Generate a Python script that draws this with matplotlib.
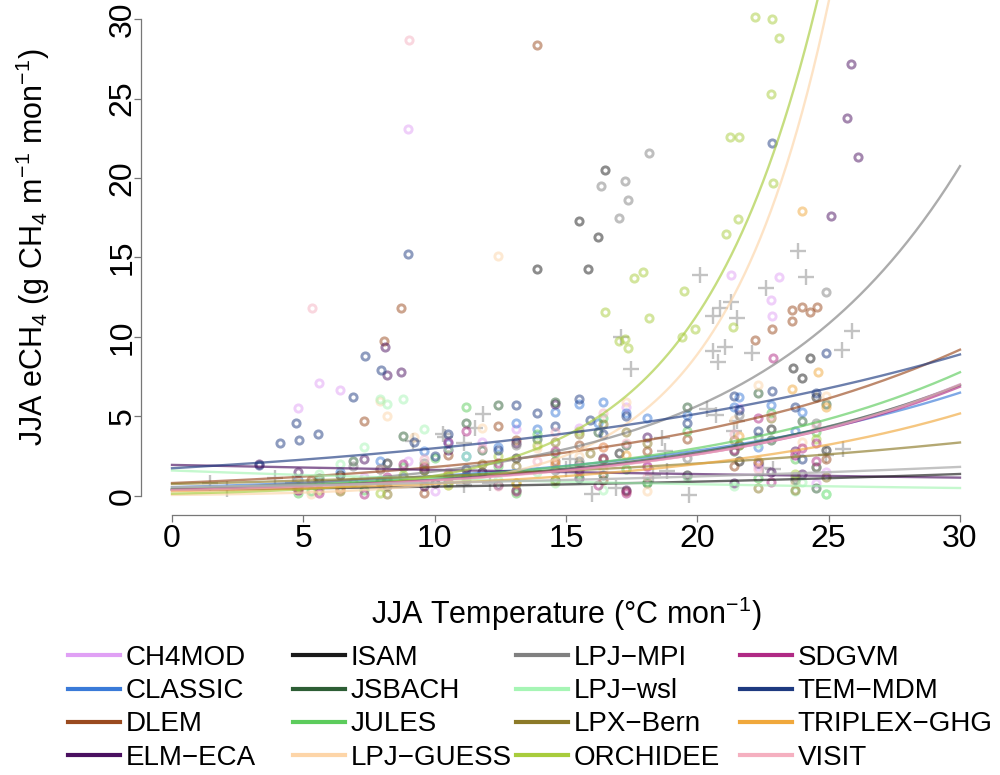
#!/usr/bin/env python3

import matplotlib
matplotlib.use("Agg")
import matplotlib.pyplot as plt
import numpy as np
from matplotlib.lines import Line2D

plt.rcParams['font.family'] = ['Liberation Sans', 'DejaVu Sans']
plt.rcParams['mathtext.fontset'] = 'custom'
plt.rcParams['mathtext.rm'] = 'Liberation Sans'
plt.rcParams['mathtext.it'] = 'Liberation Sans'
plt.rcParams['mathtext.default'] = 'regular'

MODELS = ['CH4MOD', 'CLASSIC', 'DLEM', 'ELM-ECA',
          'ISAM', 'JSBACH', 'JULES', 'LPJ-GUESS',
          'LPJ-MPI', 'LPJ-wsl', 'LPX-Bern', 'ORCHIDEE',
          'SDGVM', 'TEM-MDM', 'TRIPLEX-GHG', 'VISIT']
COLORS = ['#e0a0f5', '#3a7ad8', '#9a4a1f', '#4a1060',
          '#1a1a1a', '#2d5e35', '#5ccc5c', '#fdd5a8',
          '#808080', '#a6f5b5', '#8c7a28', '#a8cc3c',
          '#b02a85', '#1e3a80', '#f0a83c', '#f5b0c0']

# exponential fits: eCH4 = FIT_A * exp(FIT_B * T)
FIT_A = [0.40, 0.55, 0.81, 1.95, 0.38, 0.42, 0.45, 0.06,
         0.42, 1.60, 0.75, 0.14, 0.38, 1.74, 0.30, 0.36]
FIT_B = [0.0955, 0.0823, 0.081, -0.0176, 0.043, 0.0937, 0.095, 0.25,
         0.13, -0.039, 0.05, 0.22, 0.0965, 0.0544, 0.095, 0.099]
OBS_FIT_A = 0.55
OBS_FIT_B = 0.04

# site values per model (JJA temperature, JJA eCH4)
CH4MOD_T = [4.8, 5.6, 6.4, 7.3, 8.2, 9.0, 9.0, 10.0, 10.5, 11.8, 13.1, 14.6, 15.5,
            16.4, 17.3, 18.1, 21.3, 21.6, 22.3, 22.8, 22.85, 23.1, 23.7, 24.5, 24.9]
CH4MOD_Y = [5.5, 7.1, 6.65, 1.2, 0.9, 23.1, 2.2, 0.3, 1.5, 3.4, 4.2, 2.0, 4.3,
            3.1, 5.6, 1.8, 13.9, 5.5, 1.9, 12.3, 11.3, 13.8, 2.6, 0.8, 1.5]
CLASSIC_T = [4.8, 6.4, 7.9, 8.8, 9.6, 10.5, 11.2, 12.4, 13.1, 13.9, 14.6, 15.5,
             16.2, 16.4, 17.3, 18.1, 19.6, 21.4, 21.6, 22.3, 22.8, 23.7, 24.0, 24.5]
CLASSIC_Y = [1.0, 1.5, 2.2, 1.2, 2.8, 3.3, 2.5, 3.1, 4.6, 4.2, 5.3, 5.8,
             4.6, 5.9, 5.2, 4.9, 5.1, 5.6, 6.2, 3.1, 5.7, 4.1, 5.3, 1.8]
DLEM_T = [5.3, 7.3, 8.07, 8.73, 9.6, 10.5, 11.2, 12.4, 13.1, 13.9, 14.6, 15.5, 16.4,
          17.3, 18.1, 19.6, 21.4, 22.2, 22.85, 23.6, 23.6, 24.0, 24.3, 24.55, 24.9]
DLEM_Y = [1.0, 4.7, 9.75, 11.8, 0.2, 2.6, 1.3, 4.4, 3.5, 28.4, 2.2, 3.2, 1.0,
          0.3, 2.8, 3.6, 1.9, 9.8, 10.5, 11.0, 11.7, 11.9, 11.6, 11.9, 2.3]
ELMECA_T = [3.3, 4.8, 5.6, 7.3, 8.1, 8.2, 8.73, 9.6, 10.5, 11.2, 12.4, 13.1, 14.6,
            15.5, 16.4, 17.3, 18.1, 21.4, 22.3, 22.8, 23.7, 24.0, 25.1, 25.7, 25.85, 26.1]
ELMECA_Y = [2.0, 1.5, 0.9, 2.3, 9.4, 7.6, 7.8, 0.6, 2.9, 1.2, 0.7, 3.3, 5.8,
            1.1, 2.4, 0.4, 3.7, 0.8, 2.1, 1.5, 2.8, 1.4, 17.6, 23.8, 27.2, 21.3]
ISAM_T = [6.4, 8.2, 10.0, 11.8, 13.1, 13.9, 14.6, 15.5, 15.85, 16.2,
          16.5, 17.0, 19.6, 21.6, 22.8, 23.65, 24.0, 24.3, 24.5, 24.9]
ISAM_Y = [1.3, 2.1, 0.8, 1.5, 2.4, 14.3, 1.0, 17.3, 14.3, 16.3,
          20.5, 2.7, 1.3, 2.2, 4.2, 8.05, 7.4, 8.7, 6.2, 2.9]
JSBACH_T = [4.8, 5.6, 6.9, 7.9, 8.8, 9.6, 10.5, 11.2, 11.8, 12.4, 13.1, 13.9, 14.6,
            15.5, 16.2, 16.4, 17.3, 18.1, 19.6, 21.4, 22.3, 22.8, 23.7, 24.0, 24.5, 24.9]
JSBACH_Y = [0.6, 1.1, 2.2, 1.7, 3.8, 1.6, 0.9, 4.6, 2.9, 5.7, 0.4, 3.6, 5.9,
            2.0, 4.0, 1.3, 3.2, 0.8, 5.6, 2.8, 6.5, 3.5, 1.0, 4.7, 0.5, 5.8]
JULES_T = [4.8, 5.3, 6.4, 7.3, 7.9, 8.8, 9.6, 10.0, 10.5, 11.2, 12.4, 13.1, 13.9,
           14.6, 15.5, 16.4, 17.3, 18.1, 19.6, 21.6, 22.3, 22.8, 23.7, 24.5, 24.9]
JULES_Y = [0.2, 0.3, 0.5, 0.4, 1.0, 1.8, 0.9, 2.4, 1.3, 5.6, 1.9, 0.2, 3.9,
           2.7, 1.4, 4.9, 1.7, 0.9, 4.1, 3.2, 1.1, 5.2, 2.3, 4.0, 0.1]
LPJGUESS_T = [5.3, 6.4, 7.9, 8.2, 9.2, 10.5, 11.8, 12.4, 13.9, 14.6,
              15.5, 16.4, 17.3, 18.1, 21.4, 22.3, 23.7, 24.0, 24.9]
LPJGUESS_Y = [0.1, 0.4, 6.0, 5.0, 3.7, 0.7, 4.3, 15.1, 3.0, 0.9,
              2.5, 1.7, 5.9, 0.3, 4.8, 7.0, 0.8, 3.4, 6.3]
LPJMPI_T = [4.8, 6.9, 8.2, 9.6, 11.2, 13.1, 14.6, 15.5, 16.35, 17.0,
            17.26, 17.35, 18.15, 19.6, 21.6, 22.3, 23.7, 24.5, 24.9]
LPJMPI_Y = [0.4, 1.9, 0.6, 2.1, 1.0, 3.2, 1.6, 2.2, 19.5, 17.5,
            19.8, 18.6, 21.6, 2.4, 5.1, 3.7, 1.2, 4.6, 12.8]
LPJWSL_T = [4.8, 5.6, 6.4, 7.3, 7.9, 8.2, 8.8, 9.6, 10.5, 11.2, 12.4,
            13.9, 14.6, 16.4, 17.3, 19.6, 21.4, 22.3, 23.7, 24.0, 24.9]
LPJWSL_Y = [0.9, 1.4, 2.0, 3.1, 6.1, 5.8, 6.1, 4.2, 3.0, 2.5, 1.0,
            1.5, 0.8, 0.4, 1.7, 1.2, 0.6, 3.3, 0.3, 0.9, 0.1]
LPXBERN_T = [4.8, 6.4, 7.9, 8.2, 9.6, 10.5, 11.8, 13.1, 14.6, 15.5, 15.9,
             16.4, 17.3, 18.1, 21.4, 21.6, 22.3, 22.8, 23.7, 24.5, 24.9]
LPXBERN_Y = [0.5, 0.3, 0.9, 0.1, 1.6, 1.2, 2.0, 1.9, 3.4, 3.9, 2.7,
             4.5, 4.0, 3.3, 3.5, 3.2, 0.5, 4.9, 0.4, 1.8, 1.2]
ORCHIDEE_T = [4.8, 5.6, 6.9, 7.9, 8.8, 9.6, 10.5, 11.2, 12.4, 13.1, 13.9, 14.6,
              15.5, 16.4, 16.5, 17.0, 17.25, 17.35, 17.6, 17.95, 18.15, 19.4,
              19.5, 19.9, 21.1, 21.25, 21.35, 21.55, 21.6, 22.2, 22.8, 22.85,
              22.9, 23.1, 23.7, 24.5]
ORCHIDEE_Y = [0.6, 0.4, 0.9, 0.2, 1.3, 1.9, 0.7, 1.2, 2.5, 0.8, 3.2, 1.0,
              4.1, 2.3, 11.6, 9.75, 9.9, 9.3, 13.7, 14.1, 11.2, 10.0,
              12.9, 10.5, 16.5, 22.6, 10.6, 17.4, 22.6, 30.1, 25.3, 30.0,
              19.7, 28.8, 1.4, 3.6]
SDGVM_T = [4.8, 5.6, 7.3, 8.2, 8.8, 9.6, 10.5, 11.2, 12.4, 13.1, 14.6, 15.5,
           16.2, 16.4, 17.3, 18.1, 21.4, 22.3, 22.8, 22.9, 23.7, 24.0, 24.5, 24.5]
SDGVM_Y = [0.4, 0.2, 0.1, 1.2, 2.0, 1.8, 3.4, 4.1, 2.1, 0.3, 2.8, 1.6,
           0.7, 2.3, 0.2, 1.9, 2.9, 4.9, 0.9, 8.7, 2.6, 3.0, 2.2, 3.3]
TEMMDM_T = [3.3, 4.1, 4.72, 4.82, 5.56, 6.89, 7.33, 7.96, 8.2, 9.0, 9.2, 10.0,
            10.5, 11.2, 12.4, 13.1, 13.9, 14.6, 15.5, 15.9, 16.4, 17.3, 19.6,
            21.4, 21.6, 22.3, 22.85, 22.85, 23.7, 24.0, 24.5, 24.9]
TEMMDM_Y = [1.95, 3.35, 4.57, 3.5, 3.9, 6.25, 8.8, 7.9, 1.0, 15.2, 3.4, 2.5,
            3.9, 1.7, 2.9, 5.7, 5.2, 4.4, 6.1, 4.8, 3.9, 5.0, 4.6,
            6.3, 5.4, 4.1, 22.2, 6.6, 5.6, 2.3, 6.5, 9.0]
TRIPLEX_T = [6.4, 8.2, 10.5, 13.1, 14.6, 16.4, 17.3, 21.6, 22.3, 23.6, 24.0, 24.6, 24.9]
TRIPLEX_Y = [0.5, 1.0, 1.4, 0.8, 2.0, 3.1, 2.6, 3.8, 2.2, 6.7, 17.9, 7.8, 5.6]
VISIT_T = [4.8, 5.33, 6.4, 7.9, 9.03, 9.6, 10.5, 11.8, 12.4, 13.9,
           14.6, 15.5, 16.4, 17.3, 18.1, 21.4, 22.3, 22.8, 23.7, 24.5]
VISIT_Y = [0.9, 11.8, 0.5, 1.7, 28.7, 2.3, 1.1, 3.0, 0.6, 2.2,
           4.0, 1.9, 5.2, 3.3, 1.2, 3.9, 1.7, 5.0, 2.7, 4.4]

# site observations (grey crosses)
OBS_T = [1.45, 2.08, 3.92, 4.62, 9.19, 10.3, 10.4, 11.1, 11.53, 11.85, 12.1, 11.1,
         15.0, 15.15, 16.0, 16.9, 17.1, 17.47, 18.3, 18.64, 18.77, 18.83, 19.7,
         20.1, 20.35, 20.6, 20.6, 20.7, 20.8, 20.85, 21.05, 21.3, 21.4, 21.5, 21.5,
         22.1, 22.5, 22.6, 22.9, 23.85, 24.15, 24.9, 25.5, 25.55, 25.9]
OBS_Y = [0.84, 0.42, 1.15, 0.84, 3.46, 3.88, 3.7, 3.3, 4.3, 5.14, 0.8, 0.7,
         1.7, 2.3, 0.15, 0.52, 10.0, 8.0, 1.3, 3.67, 2.83, 1.57, 0.08,
         13.9, 5.45, 9.1, 11.3, 5.1, 8.4, 11.8, 9.4, 12.2, 4.1, 4.7, 11.2,
         9.0, 1.78, 13.1, 1.68, 15.4, 13.8, 2.6, 9.2, 2.94, 10.4]

MODEL_T = [CH4MOD_T, CLASSIC_T, DLEM_T, ELMECA_T, ISAM_T, JSBACH_T, JULES_T, LPJGUESS_T,
           LPJMPI_T, LPJWSL_T, LPXBERN_T, ORCHIDEE_T, SDGVM_T, TEMMDM_T, TRIPLEX_T, VISIT_T]
MODEL_Y = [CH4MOD_Y, CLASSIC_Y, DLEM_Y, ELMECA_Y, ISAM_Y, JSBACH_Y, JULES_Y, LPJGUESS_Y,
           LPJMPI_Y, LPJWSL_Y, LPXBERN_Y, ORCHIDEE_Y, SDGVM_Y, TEMMDM_Y, TRIPLEX_Y, VISIT_Y]


def main():
    fig = plt.figure(figsize=(10, 7.75), dpi=100)
    # R-style plot region: data range 0-30 padded by 4%
    ax = fig.add_axes([0.1405, 0.3355, 0.851, 0.6645])
    ax.set_xlim(-1.2, 31.2)
    ax.set_ylim(-1.2, 31.2)

    ax.plot(OBS_T, OBS_Y, '+', color='#b4b4b4', ms=12, mew=1.7, alpha=0.8, clip_on=False)
    for t, y, c in zip(MODEL_T, MODEL_Y, COLORS):
        ax.plot(t, y, 'o', mfc='none', mec=c, ms=5.2, mew=2.1, alpha=0.5, clip_on=False)

    tt = np.linspace(0, 30, 301)
    for a, b, c in zip(FIT_A, FIT_B, COLORS):
        ax.plot(tt, a * np.exp(b * tt), '-', color=c, lw=1.7, alpha=0.65)
    ax.plot(tt, OBS_FIT_A * np.exp(OBS_FIT_B * tt), '-', color='#b4b4b4', lw=1.7, alpha=0.8)

    # axes: detached R style
    for side in ['top', 'right']:
        ax.spines[side].set_visible(False)
    for side in ['left', 'bottom']:
        ax.spines[side].set_bounds(0, 30)
        ax.spines[side].set_color('#777777')
        ax.spines[side].set_linewidth(0.9)
    ax.set_xticks(np.arange(0, 31, 5))
    ax.set_yticks(np.arange(0, 31, 5))
    ax.tick_params(axis='both', length=5, width=0.9, color='#777777', labelsize=23)
    ax.tick_params(axis='x', pad=1.5)
    ax.tick_params(axis='y', pad=-3, labelrotation=90)
    for lab in ax.get_yticklabels():
        lab.set_va('center')

    ax.set_xlabel('JJA Temperature (°C mon$^{-1}$)', fontsize=22)
    ax.xaxis.set_label_coords(0.5, -0.155)
    ax.set_ylabel('JJA eCH$_4$ (g CH$_4$ m$^{-1}$ mon$^{-1}$)', fontsize=22)
    ax.yaxis.set_label_coords(-0.104, 0.52)

    # legend: four columns of four, laid out like the R legend
    handles = [Line2D([], [], color=c, lw=3) for c in COLORS]
    labels = [m.replace('-', '\u2212') for m in MODELS]
    col_x = [68, 293, 516, 740]
    for i, x in enumerate(col_x):
        fig.legend(handles[4 * i:4 * i + 4], labels[4 * i:4 * i + 4],
                   loc='upper left', bbox_to_anchor=(x / 1000, 1 - 645 / 775),
                   frameon=False, fontsize=20, borderpad=0, borderaxespad=0,
                   handlelength=1.87, handletextpad=0.2, labelspacing=0.26)

    fig.savefig('out.png', dpi=100)


if __name__ == '__main__':
    main()
